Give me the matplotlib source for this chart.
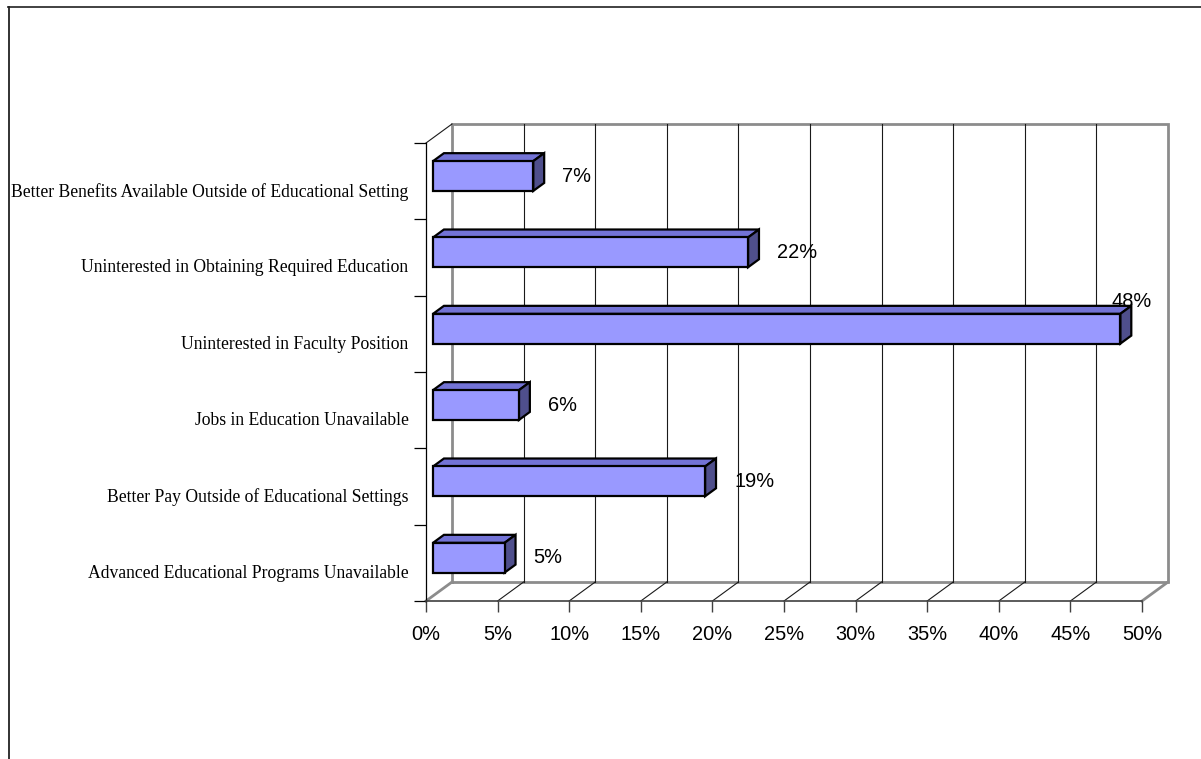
import numpy as np
import matplotlib
matplotlib.use('Agg')
import matplotlib.pyplot as plt
from matplotlib.patches import Polygon
from matplotlib.lines import Line2D
from matplotlib.transforms import ScaledTranslation

# categories listed bottom to top
reasons = ['Advanced Educational Programs Unavailable',
           'Better Pay Outside of Educational Settings',
           'Jobs in Education Unavailable',
           'Uninterested in Faculty Position',
           'Uninterested in Obtaining Required Education',
           'Better Benefits Available Outside of Educational Setting']
shares = [5, 19, 6, 48, 22, 7]
x_ticks = np.arange(0, 51, 5)
x_labels = [f'{t}%' for t in x_ticks]

FRONT = '#9999FF'
TOP = '#7373D6'
SIDE = '#4F4F8C'
WALL = '#8C8C8C'
SANS = 'Liberation Sans'
SERIF = 'Liberation Serif'

W, H = 1201, 759
fig = plt.figure(figsize=(W / 100, H / 100), dpi=100)
ax = fig.add_axes([426 / W, 1 - 601 / H, 716 / W, 458 / H])
n = len(reasons)
xmax = x_ticks[-1]
ax.set_xlim(0, xmax)
ax.set_ylim(0, n)

# depth of the 3d box in data units: 26 px right, 19 px up
p0 = ax.transData.transform((0, 0))
p1 = ax.transData.transform((1, 1))
dx = 26 / (p1[0] - p0[0])
dy = 19 / (p1[1] - p0[1])

# back wall
ax.plot([dx, xmax + dx, xmax + dx, dx, dx], [dy, dy, n + dy, n + dy, dy],
        color=WALL, lw=2, clip_on=False, zorder=1, solid_joinstyle='miter')
for t in x_ticks[1:-1]:
    ax.plot([t + dx, t + dx], [dy, n + dy], color='#1a1a1a', lw=0.8,
            clip_on=False, zorder=1)
    ax.plot([t, t + dx], [0, dy], color='#1a1a1a', lw=0.8,
            clip_on=False, zorder=1)
# floor and side wall edges
ax.plot([0, dx], [0, dy], color=WALL, lw=2, clip_on=False, zorder=1)
ax.plot([xmax, xmax + dx], [0, dy], color=WALL, lw=2, clip_on=False, zorder=1)
ax.plot([0, dx], [n, n + dy], color='#1a1a1a', lw=0.8, clip_on=False, zorder=1)

# bars: front face sits at f0 of the depth, back face at f1
f0, f1 = 0.27, 0.69
h = 0.39
ys = np.arange(n) + 0.5
ax.barh(ys + f0 * dy, shares, height=h, left=f0 * dx, color=FRONT,
        edgecolor='black', lw=1.6, zorder=4)
for y, v in zip(ys, shares):
    yt = y + h / 2
    yb = y - h / 2
    top = [(f0 * dx, yt + f0 * dy), (v + f0 * dx, yt + f0 * dy),
           (v + f1 * dx, yt + f1 * dy), (f1 * dx, yt + f1 * dy)]
    side = [(v + f0 * dx, yb + f0 * dy), (v + f1 * dx, yb + f1 * dy),
            (v + f1 * dx, yt + f1 * dy), (v + f0 * dx, yt + f0 * dy)]
    ax.add_patch(Polygon(top, closed=True, facecolor=TOP, edgecolor='black',
                         lw=1.6, zorder=3, clip_on=False, joinstyle='miter'))
    ax.add_patch(Polygon(side, closed=True, facecolor=SIDE, edgecolor='black',
                         lw=1.6, zorder=3, clip_on=False, joinstyle='miter'))

    # value labels; the ones with no room left go over the bar end
    room = (xmax + dx) - (v + f0 * dx)
    if room < 3.5:
        ax.annotate(f'{v}%', (v + f1 * dx, yt + f1 * dy), xytext=(0, 4),
                    textcoords='offset pixels', ha='center', va='center',
                    fontsize=14.4, family=SANS, zorder=6)
    else:
        ax.annotate(f'{v}%', (v + f0 * dx, y + f0 * dy), xytext=(29, 0),
                    textcoords='offset pixels', ha='left', va='center',
                    fontsize=14.4, family=SANS, zorder=6)

# axes
for side_name in ['top', 'right']:
    ax.spines[side_name].set_visible(False)
ax.spines['left'].set_color('black')
ax.spines['left'].set_linewidth(0.9)
ax.spines['bottom'].set_color('#404040')
ax.spines['bottom'].set_linewidth(1.2)
ax.patch.set_visible(False)

ax.set_xticks(x_ticks)
ax.set_xticklabels(x_labels, family=SANS, fontsize=14.4)
ax.tick_params(axis='x', length=8, width=1, color='#404040', pad=9.3)
ax.set_yticks(np.arange(n + 1))
ax.set_yticklabels([])
ax.tick_params(axis='y', length=8.6, width=0.9, color='black')

lab_tf = ax.get_yaxis_transform() + ScaledTranslation(-0.175, -0.105,
                                                       fig.dpi_scale_trans)
for y, r in zip(ys, reasons):
    ax.text(0, y, r, transform=lab_tf, ha='right', va='center',
            family=SERIF, fontsize=12.7)

# chart frame
fig.add_artist(Line2D([8 / W, 1], [1 - 7 / H, 1 - 7 / H],
                      transform=fig.transFigure, color='#333333', lw=1.3))
fig.add_artist(Line2D([8.5 / W, 8.5 / W], [0, 1 - 7 / H],
                      transform=fig.transFigure, color='#222222', lw=1.3))

fig.savefig('out.png', dpi=100)
